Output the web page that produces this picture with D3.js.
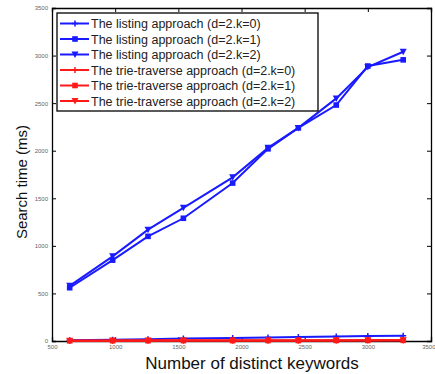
<!DOCTYPE html>
<meta charset="utf-8">
<title>Search time</title>
<style>
    body { margin: 0; background: #fff; }
    svg { font-family: "Liberation Sans", Arial, sans-serif; }
    .tick text { fill: #666; font-size: 6px; }
    .tick line, .domain { stroke: #000; }
</style>
<body>
<svg id="chart" width="435" height="374"></svg>
<script src="https://d3js.org/d3.v7.min.js"></script>
<script>
    // keyword counts (x)
    var keywords = [640, 980, 1260, 1540, 1930, 2210, 2450, 2750, 3000, 3280];
    // search time in ms
    var listK0 = [8, 12, 18, 25, 32, 38, 42, 48, 52, 55];
    var listK1 = [560, 850, 1100, 1290, 1660, 2020, 2240, 2480, 2890, 2955];
    var listK2 = [580, 890, 1170, 1400, 1720, 2030, 2240, 2550, 2880, 3040];
    var trieK0 = [3, 3, 4, 4, 5, 5, 6, 6, 7, 7];
    var trieK1 = [2, 3, 3, 4, 4, 5, 5, 6, 6, 7];
    var trieK2 = [3, 4, 4, 5, 5, 6, 6, 7, 7, 8];
    var xTicks = [500, 1000, 1500, 2000, 2500, 3000, 3500];
    var yTicks = [0, 500, 1000, 1500, 2000, 2500, 3000, 3500];
    var seriesNames = [
        "The listing approach (d=2.k=0)",
        "The listing approach (d=2.k=1)",
        "The listing approach (d=2.k=2)",
        "The trie-traverse approach (d=2.k=0)",
        "The trie-traverse approach (d=2.k=1)",
        "The trie-traverse approach (d=2.k=2)"
    ];

    var series = [
        { name: seriesNames[0], values: listK0, color: "#1a1aff", marker: "plus" },
        { name: seriesNames[1], values: listK1, color: "#1a1aff", marker: "square" },
        { name: seriesNames[2], values: listK2, color: "#1a1aff", marker: "triangle" },
        { name: seriesNames[3], values: trieK0, color: "#ff1a1a", marker: "plus" },
        { name: seriesNames[4], values: trieK1, color: "#ff1a1a", marker: "square" },
        { name: seriesNames[5], values: trieK2, color: "#ff1a1a", marker: "triangle" }
    ];

    var plot = { left: 52, right: 431, top: 8, bottom: 341 };
    var svg = d3.select("#chart");

    var x = d3.scaleLinear().domain([500, 3500]).range([plot.left, plot.right]);
    var y = d3.scaleLinear().domain([0, 3500]).range([plot.bottom, plot.top]);

    // axes, ticks pointing inward like matlab
    var xAxis = svg.append("g")
        .attr("transform", "translate(0," + plot.bottom + ")")
        .call(d3.axisBottom(x).tickValues(xTicks).tickSize(-4).tickPadding(4).tickFormat(d3.format("d")));
    // last label sits on the right edge
    xAxis.selectAll(".tick text").filter(function(d) { return d == 3500; })
        .attr("text-anchor", "end").attr("dx", 4);
    svg.append("g")
        .attr("transform", "translate(0," + plot.top + ")")
        .call(d3.axisTop(x).tickValues(xTicks).tickSize(-4).tickFormat(""));
    svg.append("g")
        .attr("transform", "translate(" + plot.left + ",0)")
        .call(d3.axisLeft(y).tickValues(yTicks).tickSize(-4).tickPadding(4).tickFormat(d3.format("d")));
    svg.append("g")
        .attr("transform", "translate(" + plot.right + ",0)")
        .call(d3.axisRight(y).tickValues(yTicks).tickSize(-4).tickFormat(""));
    svg.selectAll(".domain").attr("stroke-width", 1.3);

    var line = d3.line()
        .x(function(d, i) { return x(keywords[i]); })
        .y(function(d) { return y(d); });

    function drawMarker(g, type, cx, cy, color) {
        if (type == "square") {
            g.append("rect").attr("x", cx - 2.8).attr("y", cy - 2.8)
                .attr("width", 5.6).attr("height", 5.6).attr("fill", color);
        } else if (type == "triangle") {
            g.append("path")
                .attr("d", "M" + (cx - 3.5) + "," + (cy - 3) + "L" + (cx + 3.5) + "," + (cy - 3) + "L" + cx + "," + (cy + 3.5) + "Z")
                .attr("fill", color);
        } else {
            g.append("path")
                .attr("d", "M" + (cx - 3) + "," + cy + "H" + (cx + 3) + "M" + cx + "," + (cy - 3) + "V" + (cy + 3))
                .attr("stroke", color).attr("stroke-width", 1.5);
        }
    }

    // blue first so the red ones sit on top at the bottom
    series.forEach(function(s) {
        var g = svg.append("g");
        g.append("path")
            .datum(s.values)
            .attr("fill", "none")
            .attr("stroke", s.color)
            .attr("stroke-width", 2)
            .attr("d", line);
        s.values.forEach(function(v, i) {
            drawMarker(g, s.marker, x(keywords[i]), y(v), s.color);
        });
    });

    // legend
    var leg = svg.append("g");
    leg.append("rect")
        .attr("x", 57).attr("y", 13).attr("width", 261).attr("height", 98)
        .attr("fill", "#fff").attr("stroke", "#000").attr("stroke-width", 1.3);
    series.forEach(function(s, i) {
        var ly = 23.5 + i * 15.5;
        leg.append("line")
            .attr("x1", 60).attr("x2", 89).attr("y1", ly).attr("y2", ly)
            .attr("stroke", s.color).attr("stroke-width", 2);
        drawMarker(leg, s.marker, 75, ly, s.color);
        leg.append("text")
            .attr("x", 91).attr("y", ly + 4.5)
            .attr("font-size", 12.5)
            .attr("fill", "#222")
            .text(s.name);
    });

    // axis titles
    svg.append("text")
        .attr("x", 252).attr("y", 369)
        .attr("text-anchor", "middle")
        .attr("font-size", 17)
        .attr("fill", "#111")
        .text("Number of distinct keywords");
    svg.append("text")
        .attr("transform", "translate(27,182) rotate(-90)")
        .attr("text-anchor", "middle")
        .attr("font-size", 15)
        .attr("fill", "#111")
        .text("Search time (ms)");
</script>
</body>
